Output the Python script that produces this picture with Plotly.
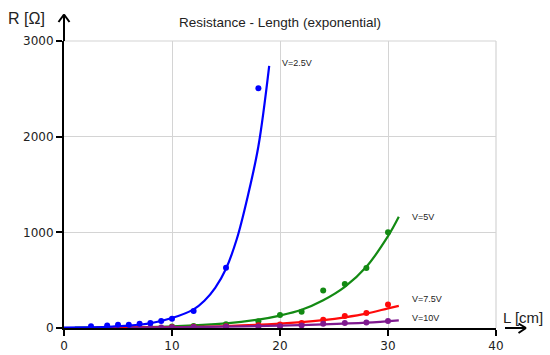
import plotly.graph_objects as go

# ---- measured data points ----
blue_x = [2.5, 4, 5, 6, 7, 8, 9, 10, 12, 15, 18]
blue_y = [17, 27, 34, 34, 45, 52, 73, 97, 177, 631, 2506]
green_x = [4, 5, 10, 12, 15, 18, 20, 22, 24, 26, 28, 30]
green_y = [4, 5, 15, 20, 40, 70, 135, 170, 392, 461, 628, 1000]
red_x = [6, 7, 10, 12, 15, 18, 20, 22, 24, 26, 28, 30]
red_y = [5, 6, 9, 12, 18, 28, 36, 52, 86, 125, 156, 245]
purple_x = [8, 9, 10, 12, 15, 18, 20, 22, 24, 26, 28, 30]
purple_y = [5, 6, 7, 10, 15, 15, 17, 27, 45, 52, 58, 73]

# ---- fitted curves ----
blue_fit_x = [0, 2, 4, 6, 8, 10, 12, 13, 14, 15, 16, 17, 18, 19]
blue_fit_y = [3, 6, 12, 24, 50, 104, 195, 285, 420, 620, 930, 1370, 1900, 2740]
green_fit_x = [1, 5, 10, 15, 18, 20, 22, 24, 26, 28, 30, 31]
green_fit_y = [3, 6, 17, 48, 88, 130, 190, 290, 430, 640, 960, 1163]
red_fit_x = [3, 6, 10, 15, 20, 22, 24, 26, 28, 30, 31]
red_fit_y = [4, 6, 10, 21, 45, 61, 83, 112, 150, 205, 232]
purple_fit_x = [6, 10, 15, 20, 24, 28, 31]
purple_fit_y = [5, 8, 14, 24, 37, 56, 80]

labels = ["V=2.5V", "V=5V", "V=7.5V", "V=10V"]
label_x = [20.0, 32.0, 32.0, 32.0]
label_y = [2770, 1160, 306, 107]

x_ticks = [0, 10, 20, 30, 40]
y_ticks = [0, 1000, 2000, 3000]

colors = {"blue": "#0000ff", "green": "#138a13", "red": "#ff0a0a", "purple": "#7f1a8f"}

W, H = 550, 355
L, R, T, B = 64, 54, 41, 27
PW, PH = W - L - R, H - T - B


def px(xp):
    return (xp - L) / PW


def py(yp):
    return (H - B - yp) / PH


fig = go.Figure()
series = [
    ("green", green_x, green_y, green_fit_x, green_fit_y),
    ("red", red_x, red_y, red_fit_x, red_fit_y),
    ("purple", purple_x, purple_y, purple_fit_x, purple_fit_y),
    ("blue", blue_x, blue_y, blue_fit_x, blue_fit_y),
]
for name, xs, ys, fx, fy in series:
    c = colors[name]
    fig.add_trace(go.Scatter(x=fx, y=fy, mode="lines", line=dict(color=c, width=2.2, shape="spline", smoothing=1.0),
                             showlegend=False, hoverinfo="skip"))
    fig.add_trace(go.Scatter(x=xs, y=ys, mode="markers", marker=dict(color=c, size=6),
                             showlegend=False))

for t, lx, ly in zip(labels, label_x, label_y):
    fig.add_annotation(x=lx, y=ly, text=t, showarrow=False, xanchor="left", yanchor="middle",
                       font=dict(family="Liberation Sans", size=9, color="#222222"))

# axis labels
fig.add_annotation(xref="paper", yref="paper", x=px(26), y=py(19), text="R [Ω]", showarrow=False,
                   xanchor="center", yanchor="middle",
                   font=dict(family="Liberation Sans", size=16, color="#222222"))
fig.add_annotation(xref="paper", yref="paper", x=px(523), y=py(317), text="L [cm]", showarrow=False,
                   xanchor="center", yanchor="middle",
                   font=dict(family="Liberation Sans", size=15, color="#222222"))

shapes = []
grey = "#d4d4d4"
# top and right borders
shapes.append(dict(type="line", xref="paper", yref="paper", x0=0, x1=1, y0=1, y1=1, line=dict(color=grey, width=1.2), layer="below"))
shapes.append(dict(type="line", xref="paper", yref="paper", x0=1, x1=1, y0=0, y1=1, line=dict(color=grey, width=1.2), layer="below"))
blk = dict(color="black", width=2)
# y arrow
shapes.append(dict(type="line", xref="paper", yref="paper", x0=0, x1=0, y0=1, y1=py(14.5), line=blk))
shapes.append(dict(type="line", xref="paper", yref="paper", x0=px(58.5), x1=0, y0=py(22), y1=py(14.5), line=blk))
shapes.append(dict(type="line", xref="paper", yref="paper", x0=px(69.5), x1=0, y0=py(22), y1=py(14.5), line=blk))
# x arrow
shapes.append(dict(type="line", xref="paper", yref="paper", x0=px(505), x1=px(526), y0=0, y1=0, line=blk))
shapes.append(dict(type="line", xref="paper", yref="paper", x0=px(518.5), x1=px(526), y0=py(323.5), y1=0, line=blk))
shapes.append(dict(type="line", xref="paper", yref="paper", x0=px(518.5), x1=px(526), y0=py(333), y1=0, line=blk))

fig.update_layout(
    width=W, height=H,
    margin=dict(l=L, r=R, t=T, b=B, pad=0, autoexpand=False),
    paper_bgcolor="white", plot_bgcolor="white",
    title=dict(text="Resistance - Length (exponential)", x=0.5, xref="paper", xanchor="center",
               y=1 - 22 / H, yref="container", yanchor="middle", automargin=False,
               font=dict(family="Liberation Sans", size=13.5, color="#222222")),
    shapes=shapes,
    xaxis=dict(range=[0, 40], tickvals=x_ticks, showgrid=True, gridcolor=grey, gridwidth=1.2,
               zeroline=False, showline=True, linecolor="black", linewidth=2, automargin=False,
               ticks="outside", ticklen=6, tickwidth=1.5, tickcolor="black",
               tickfont=dict(family="DejaVu Sans", size=12, color="#222222")),
    yaxis=dict(range=[0, 3000], tickvals=y_ticks, showgrid=True, gridcolor=grey, gridwidth=1.2,
               zeroline=False, showline=True, linecolor="black", linewidth=2, automargin=False,
               ticks="outside", ticklen=6, tickwidth=1.5, tickcolor="black",
               tickfont=dict(family="DejaVu Sans", size=12, color="#222222")),
)

fig.write_html("out.html", config={"displayModeBar": False},
               post_script="document.body.style.margin='0';document.body.style.overflow='hidden';")
